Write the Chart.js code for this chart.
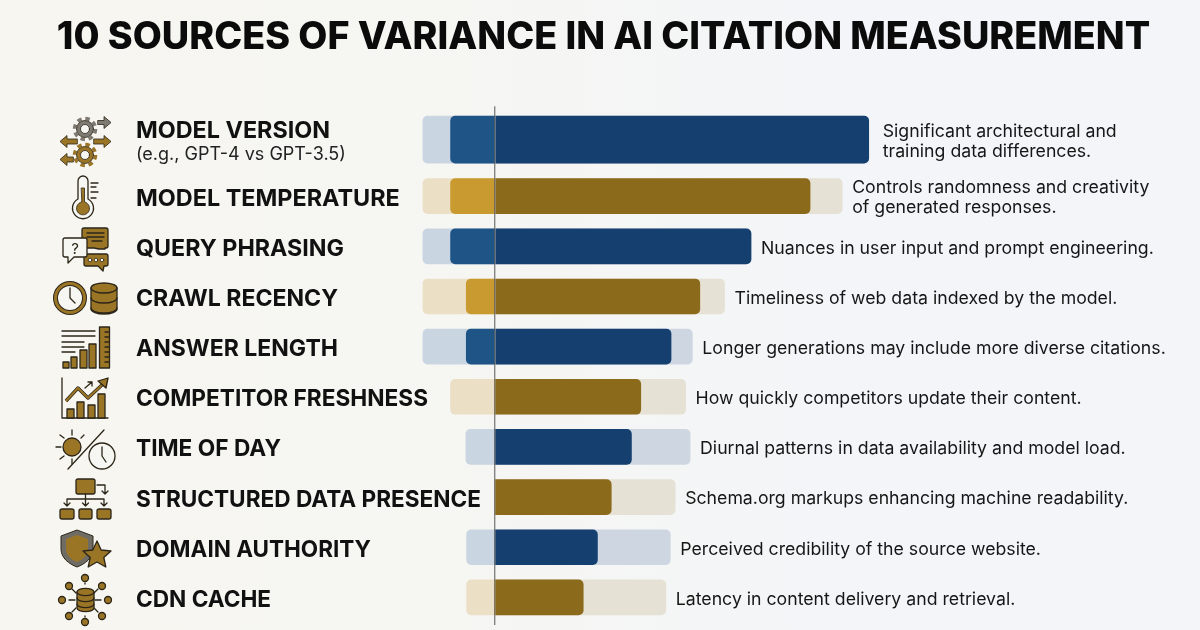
<!DOCTYPE html>
<html>
<head>
<meta charset="utf-8">
<title>Variance sources</title>
<script src="https://cdn.jsdelivr.net/npm/chart.js@4"></script>
<style>
  html, body { margin: 0; padding: 0; }
  body { width: 1200px; height: 630px; overflow: hidden; position: relative;
         background: linear-gradient(90deg, #f7f6f1 0%, #f6f6f2 35%, #f3f5f8 70%, #f3f5f9 100%); }
  #chart { position: absolute; left: 0; top: 0; }
  #icons { position: absolute; left: 0; top: 0; pointer-events: none; }
  #icons .o { stroke: #2c2618; stroke-width: 1.3; stroke-linejoin: round; stroke-linecap: round; }
  #icons .g { fill: #9a7526; }
  #icons .w { fill: #f6f6f2; }
  #icons .n { fill: none; }
  #icons .gr { fill: #7f7b72; }
  #icons .t { stroke-width: 0.8; }
</style>
</head>
<body>
<canvas id="chart" width="1200" height="630"></canvas>
<svg id="icons" width="1200" height="630" viewBox="0 0 1200 630">
  <!-- gears and arrows -->
  <circle cx="85" cy="129" r="10.5" fill="none" stroke="#7f7b72" stroke-width="3.500" stroke-dasharray="4.500 3.750"/>
  <circle cx="85" cy="129" r="8.500" class="gr o t"/><circle cx="85" cy="129" r="4.500" class="w o t"/>
  <circle cx="85" cy="155" r="10.5" fill="none" stroke="#9a7526" stroke-width="3.500" stroke-dasharray="4.500 3.750"/>
  <circle cx="85" cy="155" r="8.500" class="g o t"/><circle cx="85" cy="155" r="4.500" class="w o t"/>
  <path class="gr o t" d="M98 120.500h6v-4l7 6-7 6v-4h-6z"/>
  <path class="g o t" d="M77 139h-10v-3.500l-7 6 7 6v-3.500h10z"/>
  <path class="g o t" d="M94 139h10v-3.500l7 6-7 6v-3.500h-10z"/>
  <path class="g o t" d="M73 157h-6v-3.500l-7 6 7 6v-3.500h6z"/>
  <!-- thermometer -->
  <path class="w o" d="M78 181a5 5 0 0 1 10 0v18a10.5 10.5 0 1 1-10 0z"/>
  <path class="g o t" d="M81.5 188h3v14a6.5 6.5 0 1 1-3 0z"/>
  <path class="n o" d="M91 183h7M91 187h5M91 192h7M91 198h5"/>
  <!-- chat bubbles -->
  <path class="g o" d="M84 228h22a2 2 0 0 1 2 2v16a2 2 0 0 1-2 2h-1v1l-6 0-5-1H84a2 2 0 0 1-2-2v-16a2 2 0 0 1 2-2z"/>
  <path class="n o" d="M87 233h17M87 237h17M92 241h10"/>
  <path class="g o" d="M86 254h20a2 2 0 0 1 2 2v8a2 2 0 0 1-2 2h-2l-1 5-5-5H86a2 2 0 0 1-2-2v-8a2 2 0 0 1 2-2z"/>
  <circle class="w o t" cx="90" cy="260" r="1.8"/><circle class="w o t" cx="96" cy="260" r="1.8"/><circle class="w o t" cx="102" cy="260" r="1.8"/>
  <path class="w o" d="M65 238h20a2 2 0 0 1 2 2v15a2 2 0 0 1-2 2H74l-6 6v-6h-3a2 2 0 0 1-2-2v-15a2 2 0 0 1 2-2z"/>
  <text x="75" y="254" font-family="Inter" font-size="15" text-anchor="middle" fill="#2c2618">?</text>
  <!-- clock and database -->
  <circle cx="70" cy="298" r="14.5" class="w" stroke="#2c2618" stroke-width="5"/>
  <circle cx="70" cy="298" r="14.5" fill="none" stroke="#9a7526" stroke-width="3"/>
  <path class="n o" d="M70 288v10l5 5"/>
  <path class="g o" d="M91 288a13 5 0 0 1 26 0v21a13 5 0 0 1-26 0z"/>
  <path class="n o" d="M91 288a13 5 0 0 0 26 0M91 298a13 5 0 0 0 26 0M91 308a13 5 0 0 0 26 0"/>
  <!-- answer length -->
  <path class="n o" d="M62 331h33M62 336h33M62 342h22M62 347h22M62 352h13"/>
  <path class="g o" d="M63 362h6v6h-6zM71 357h6v11h-6zM80 350h7v18h-7zM89 344h7v24h-7z"/>
  <path class="g o" d="M99.500 327h10v41h-10z"/>
  <path class="n o" d="M105 332h4M105 337h4M105 342h4M105 347h4M105 352h4M105 357h4M105 362h4"/>
  <!-- competitor chart -->
  <path class="n o" d="M62 378v40h46"/>
  <path class="g o" d="M67 409h7v9h-7zM77 402h7v16h-7zM88 405h7v13h-7zM98 394h7v24h-7z"/>
  <path fill="none" stroke="#2c2618" stroke-width="3.400" stroke-linejoin="round" d="M66 401l12-13 10 10 15-14"/>
  <path fill="none" stroke="#9a7526" stroke-width="2" stroke-linejoin="round" d="M66 401l12-13 10 10 15-14"/>
  <path class="g o" d="M98 381l10-3-2 10z"/>
  <path class="n o" d="M85 388l7-6m-4 0h4v4"/>
  <!-- time of day -->
  <circle class="g o" cx="72" cy="447" r="9"/>
  <path class="n o" d="M72 430v5M72 459v5M56 447h5M60 435l4 3M84 435l-3 3M60 459l4-3"/>
  <path class="n o" d="M68 469l36-39"/>
  <circle class="w o" cx="102" cy="456" r="13"/>
  <path class="n o" d="M102 447v9l4 6"/>
  <!-- structured data -->
  <path class="g o" d="M76 481a2 2 0 0 1 2-2h15a2 2 0 0 1 2 2v11a2 2 0 0 1-2 2H78a2 2 0 0 1-2-2z"/>
  <path class="n o" d="M97 485h8v9m-3-3l3 3 3-3M85.500 494v12m-3-3l3 3 3-3M67 506v-7h37v7m-40-3l3 3 3-3M101 503l3 3 3-3"/>
  <path class="g o" d="M60 511a2 2 0 0 1 2-2h10a2 2 0 0 1 2 2v6a2 2 0 0 1-2 2H62a2 2 0 0 1-2-2zM79 511a2 2 0 0 1 2-2h9a2 2 0 0 1 2 2v6a2 2 0 0 1-2 2h-9a2 2 0 0 1-2-2zM97 511a2 2 0 0 1 2-2h10a2 2 0 0 1 2 2v6a2 2 0 0 1-2 2H99a2 2 0 0 1-2-2z"/>
  <!-- domain authority -->
  <path fill="#6f6c66" stroke="#2c2618" stroke-width="1" d="M77 530l16 6v13c0 9-8 15-16 18-8-3-16-9-16-18v-13z"/>
  <path class="g" d="M77 535l11 4v10c0 6-5 11-11 13-6-2-11-7-11-13v-10z"/>
  <path class="g o" d="M97 541l4.200 9 9.800 1-7.200 6.500 2 9.500-8.800-5-8.800 5 2-9.500-7.200-6.500 9.800-1z"/>
  <!-- cdn cache -->
  <path class="n o" d="M85 584v-1M85 617v-1M72 589l4 4M98 589l-4 4M69 600h6M101 600h-6M72 612l4-4M98 612l-4-4"/>
  <circle class="g o" cx="85" cy="578" r="3.500"/><circle class="g o" cx="102" cy="586" r="3.500"/><circle class="g o" cx="108" cy="600" r="3.500"/><circle class="g o" cx="102" cy="616" r="3.500"/>
  <circle class="g o" cx="85" cy="622" r="3.500"/><circle class="g o" cx="69" cy="616" r="3.500"/><circle class="g o" cx="62" cy="600" r="3.500"/><circle class="g o" cx="69" cy="586" r="3.500"/>
  <path class="g o" d="M77 592a8 3.500 0 0 1 17 0v16a8 3.500 0 0 1-17 0z"/>
  <path class="n o" d="M77 592a8 3.500 0 0 0 17 0M77 598a8 3.500 0 0 0 17 0M77 604a8 3.500 0 0 0 17 0"/>
</svg>
<script>
const titleText = '10 SOURCES OF VARIANCE IN AI CITATION MEASUREMENT';
const categories = ['MODEL VERSION', 'MODEL TEMPERATURE', 'QUERY PHRASING', 'CRAWL RECENCY', 'ANSWER LENGTH',
    'COMPETITOR FRESHNESS', 'TIME OF DAY', 'STRUCTURED DATA PRESENCE', 'DOMAIN AUTHORITY', 'CDN CACHE'];
const subLabels = ['(e.g., GPT-4 vs GPT-3.5)', '', '', '', '', '', '', '', '', ''];
const notes = [
    ['Significant architectural and', 'training data differences.'],
    ['Controls randomness and creativity', 'of generated responses.'],
    ['Nuances in user input and prompt engineering.'],
    ['Timeliness of web data indexed by the model.'],
    ['Longer generations may include more diverse citations.'],
    ['How quickly competitors update their content.'],
    ['Diurnal patterns in data availability and model load.'],
    ['Schema.org markups enhancing machine readability.'],
    ['Perceived credibility of the source website.'],
    ['Latency in content delivery and retrieval.']
];
// pale outer range and solid core of each bar, on the same axis
const rangeLow = [-19.3, -19.3, -19.3, -19.3, -19.3, -11.9, -7.8, 0, -7.6, -7.6];
const rangeHigh = [100, 92.9, 68.5, 61.4, 52.8, 51, 52.2, 48.2, 46.9, 45.7];
const coreLow = [-11.9, -11.9, -11.9, -7.7, -7.7, 0, 0, 0, 0, 0];
const coreHigh = [100, 84.3, 68.5, 54.8, 47.1, 39, 36.5, 31.1, 27.4, 23.6];

const blue = { paleLow: '#c9d5e0', paleHigh: '#cdd6e1', midLow: '#1f5487', dark: '#143f6e' };
const gold = { paleLow: '#ebdfc6', paleHigh: '#e5e1d4', midLow: '#c99a30', dark: '#8b6a1b' };
const family = (i) => i % 2 === 0 ? blue : gold;

// the top row sits a little higher than the even spacing of the others
const rowY = categories.map((c, i) => i === 0 ? -0.128 : i);
// widest each row name may run, the long ones get squeezed a bit
const nameWidths = [194, 264, 208, 202, 202, 292, 145, 345, 235, 135];

const r = 5;
const leftCorners = { topLeft: r, bottomLeft: r, topRight: 0, bottomRight: 0 };
const rightCorners = { topLeft: 0, bottomLeft: 0, topRight: r, bottomRight: r };

function barSet(rows, thickness, layer, colorKey, value, corners) {
    return {
        data: categories.map((c, i) => ({ x: rows(i) ? value(i) : null, y: rowY[i] })),
        backgroundColor: (ctx) => family(ctx.dataIndex)[colorKey],
        barThickness: thickness,
        grouped: false,
        order: layer,
        borderSkipped: false,
        borderRadius: corners
    };
}

function buildSets(rows, thickness) {
    return [
        barSet(rows, thickness, 4, 'paleLow', (i) => [rangeLow[i], 0], leftCorners),
        barSet(rows, thickness, 3, 'paleHigh', (i) => [0, rangeHigh[i]], rightCorners),
        barSet(rows, thickness, 2, 'midLow', (i) => [coreLow[i], 0], leftCorners),
        barSet(rows, thickness, 1, 'dark', (i) => [0, coreHigh[i]], rightCorners)
    ];
}

const rowText = {
    id: 'rowText',
    afterDraw(chart) {
        const ctx = chart.ctx;
        const xs = chart.scales.x;
        const ys = chart.scales.y;
        ctx.save();
        ctx.textBaseline = 'middle';
        ctx.textAlign = 'left';
        categories.forEach((name, i) => {
            const y = ys.getPixelForValue(rowY[i]);
            ctx.fillStyle = '#111111';
            ctx.font = '700 23.400px Inter';
            ctx.fillText(name, 136, subLabels[i] ? y - 8.500 : y + 2.500, nameWidths[i]);
            if (subLabels[i]) {
                ctx.font = '400 18px Inter';
                ctx.fillStyle = '#222222';
                ctx.fillText(subLabels[i], 136, y + 15);
            }
            ctx.font = '400 17.700px Inter';
            ctx.fillStyle = '#161616';
            const noteX = xs.getPixelForValue(rangeHigh[i]) + (i === 0 ? 14 : 10);
            const lines = notes[i];
            lines.forEach((line, k) => {
                ctx.fillText(line, noteX, y + 2 + (k - (lines.length - 1) / 2) * 20);
            });
        });
        ctx.restore();
    }
};

new Chart(document.getElementById('chart').getContext('2d'), {
    type: 'bar',
    data: {
        datasets: buildSets((i) => i === 0, 47).concat(buildSets((i) => i !== 0, 35))
    },
    plugins: [rowText],
    options: {
        indexAxis: 'y',
        responsive: false,
        animation: false,
        layout: { padding: { left: 7, right: 0, top: 0, bottom: 5 } },
        plugins: {
            legend: { display: false },
            tooltip: { enabled: false },
            title: {
                display: true,
                text: titleText,
                color: '#0b0b0b',
                font: { family: 'Inter', weight: '800', size: 37.7 },
                padding: { top: 15, bottom: 46 }
            }
        },
        scales: {
            x: {
                type: 'linear',
                min: -130.6,
                max: 188.65,
                afterBuildTicks: (axis) => { axis.ticks = [{ value: 0 }]; },
                ticks: { display: false },
                border: { display: false },
                grid: { color: 'rgba(70,70,70,0.65)', lineWidth: 1.4, z: 1, drawTicks: false }
            },
            y: {
                type: 'linear',
                reverse: true,
                offset: false,
                min: -0.793,
                max: 9.55,
                display: false
            }
        }
    }
});
</script>
</body>
</html>
